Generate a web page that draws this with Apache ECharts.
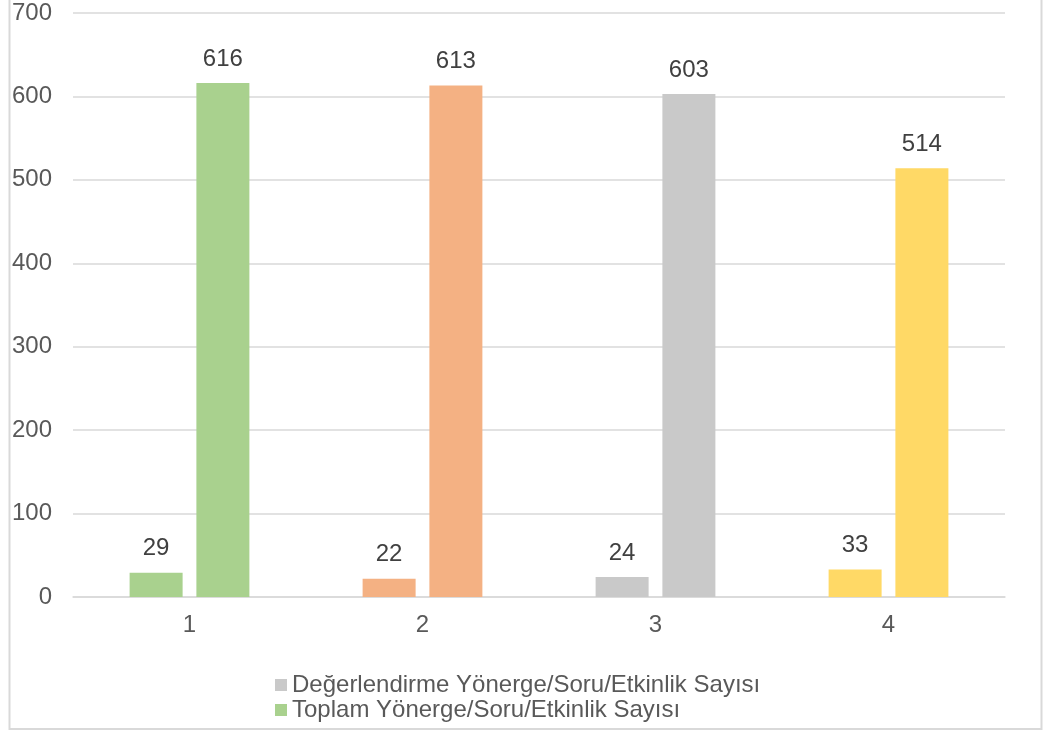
<!DOCTYPE html>
<html>
<head>
<meta charset="utf-8">
<script src="https://cdn.jsdelivr.net/npm/echarts@6/dist/echarts.min.js"></script>
<style>
html, body { margin: 0; padding: 0; background: #fff; }
#chart { width: 1047px; height: 732px; }
</style>
</head>
<body>
<div id="chart"></div>
<script>
var categories = ['1', '2', '3', '4'];
var seriesNames = ['Değerlendirme Yönerge/Soru/Etkinlik Sayısı', 'Toplam Yönerge/Soru/Etkinlik Sayısı'];
var evalValues = [29, 22, 24, 33];
var totalValues = [616, 613, 603, 514];
var barColors = ['#A9D18E', '#F4B183', '#C9C9C9', '#FFD966'];
var legendColors = ['#C9C9C9', '#A9D18E'];

function colored(values) {
  return values.map(function (v, i) {
    return { value: v, itemStyle: { color: barColors[i] } };
  });
}

var font = 'Liberation Sans, Arial, sans-serif';
var chart = echarts.init(document.getElementById('chart'));
var labelStyle = { show: true, position: 'top', distance: 12, color: '#404040', fontSize: 24, fontFamily: font };

chart.setOption({
  animation: false,
  graphic: [{
    type: 'rect',
    shape: { x: 9.5, y: -5, width: 1032, height: 734 },
    style: { fill: 'none', stroke: '#D9D9D9', lineWidth: 2 },
    silent: true
  }],
  grid: { left: 73, right: 42, top: 13, bottom: 135 },
  legend: {
    orient: 'vertical',
    left: 270,
    top: 668,
    itemWidth: 12,
    itemHeight: 12,
    itemGap: 1,
    icon: 'rect',
    textStyle: { color: '#595959', fontSize: 24, fontFamily: font },
    data: seriesNames
  },
  xAxis: {
    type: 'category',
    data: categories,
    axisLine: { lineStyle: { color: '#D9D9D9', width: 1.5 } },
    axisTick: { show: false },
    axisLabel: { color: '#595959', fontSize: 24, fontFamily: font, margin: 16 }
  },
  yAxis: {
    type: 'value',
    min: 0,
    max: 700,
    interval: 100,
    axisLine: { show: false },
    axisTick: { show: false },
    splitLine: { lineStyle: { color: '#D9D9D9', width: 1.5 } },
    axisLabel: { color: '#595959', fontSize: 24, fontFamily: font, margin: 21 }
  },
  series: [{
    name: seriesNames[0],
    type: 'bar',
    barWidth: 53,
    barGap: '26%',
    itemStyle: { color: legendColors[0] },
    label: labelStyle,
    data: colored(evalValues)
  }, {
    name: seriesNames[1],
    type: 'bar',
    barWidth: 53,
    barGap: '26%',
    itemStyle: { color: legendColors[1] },
    label: labelStyle,
    data: colored(totalValues)
  }]
});
</script>
</body>
</html>
